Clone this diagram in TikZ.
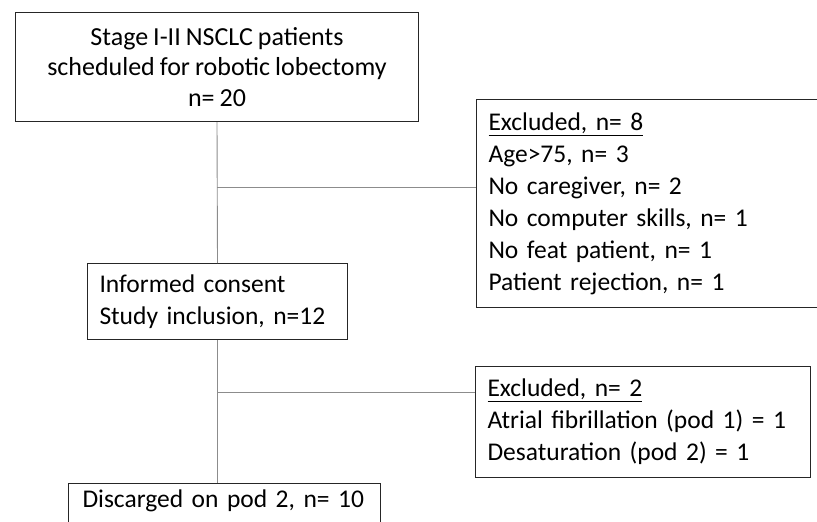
\documentclass[tikz,border=0pt]{standalone}
\usepackage{fontspec}
\setmainfont{Carlito}[WordSpace=0.85]
\begin{document}
\begin{tikzpicture}[x=1pt, y=-1pt, line width=1pt,
  box/.style={draw=black!85, anchor=north west, inner sep=0pt, font=\fontsize{25.5}{32}\selectfont},
  link/.style={draw=black!45, line width=0.9pt}]
  \useasboundingbox (0,0) rectangle (817,522);
  \clip (0,0) rectangle (817,522);
  \node[box, minimum width=403, minimum height=109, align=center, font=\fontsize{26}{30.5}\selectfont] (stage) at (15,12)
    {Stage I-II NSCLC patients\\scheduled for robotic lobectomy\\n= 20};
  \node[box, minimum width=370, minimum height=208, text width=346, align=left] (excl1) at (476,99)
    {\underline{Excluded, n= 8}\\Age>75, n= 3\\No caregiver, n= 2\\No computer skills, n= 1\\No feat patient, n= 1\\Patient rejection, n= 1};
  \node[box, minimum width=260, minimum height=76, text width=236, align=left] (consent) at (87,263)
    {Informed consent\\Study inclusion, n=12};
  \node[box, minimum width=335, minimum height=111, text width=311, align=left] (excl2) at (475,366)
    {\underline{Excluded, n= 2}\\Atrial fibrillation (pod 1) = 1\\Desaturation (pod 2) = 1};
  \node[box, minimum width=312, text height=24, text depth=30, text width=284, align=left] (disch) at (68,483)
    {Discarged on pod 2, n= 10};
  \coordinate (j1) at (217,187);
  \coordinate (j2) at (217,392);
  \draw[link] (stage.south) -- (consent.north);
  \draw[link] (consent.south) -- (consent.south |- disch.north);
  \draw[link] (j1) -- (j1 -| excl1.west);
  \draw[link] (j2) -- (j2 -| excl2.west);
\end{tikzpicture}
\end{document}
